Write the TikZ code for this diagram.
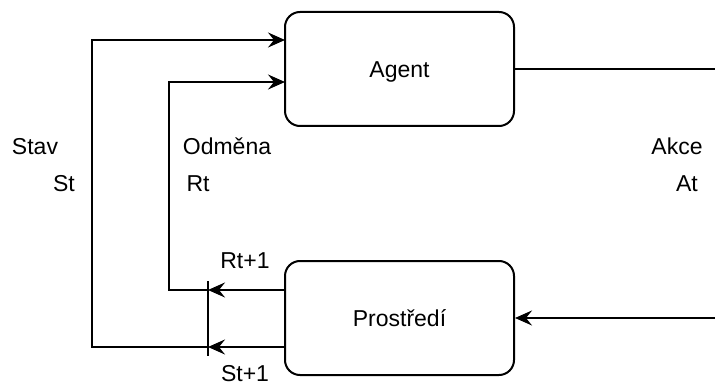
\documentclass[tikz,border=0pt]{standalone}
\usepackage{fontspec}
\setmainfont{Liberation Sans}
\usetikzlibrary{arrows.meta}
\begin{document}
\begin{tikzpicture}[x=1pt,y=-1pt,
  every node/.style={font=\fontsize{23}{27}\selectfont},
  box/.style={draw, line width=2pt, rounded corners=15pt, minimum width=229pt, minimum height=114pt, text height=16.5pt, text depth=0pt, inner sep=0pt},
  conn/.style={line width=2pt},
  arr/.style={conn, -{Stealth[length=17pt, width=15pt, inset=6pt]}},
  lbl/.style={anchor=base, inner sep=0pt}]
\useasboundingbox (0,0) rectangle (715,385);
\node[box] (agent) at (399.5,69) {Agent};
\node[box] (env) at (399.5,318) {Prostředí};
\coordinate (aR) at (715,69);
\coordinate (pR) at (715,318);
\coordinate (barT) at (208,281);
\coordinate (barB) at (208,356);
\coordinate (rTip) at (208,290);
\coordinate (sTip) at (208,347);
\coordinate (sCorner) at (92,347);
\coordinate (sTop) at (92,40);
\coordinate (rCorner) at (169,290);
\coordinate (rTop) at (169,82);
\coordinate (sIn) at (285,40);
\coordinate (rIn) at (285,82);
\coordinate (sOut) at (285,347);
\coordinate (rOut) at (285,290);
% action
\draw[conn] (agent.east) -- (aR);
\draw[arr] (pR) -- (env.east);
% bar
\draw[conn] (barT) -- (barB);
% env to bar
\draw[arr] (rOut) -- (rTip);
\draw[arr] (sOut) -- (sTip);
% feedback
\draw[arr] (rTip) -- (rCorner) -- (rTop) -- (rIn);
\draw[arr] (sTip) -- (sCorner) -- (sTop) -- (sIn);
% labels
\node[lbl] (stav) at (35,154) {Stav};
\node[lbl] (st) at (64,192) {St};
\node[lbl] (odm) at (227,154) {Odměna};
\node[lbl] (rt) at (198,192) {Rt};
\node[lbl] (akce) at (677,154) {Akce};
\node[lbl] (at) at (687,192) {At};
\node[lbl] (rt1) at (245,268) {Rt+1};
\node[lbl] (st1) at (245,381) {St+1};
\end{tikzpicture}
\end{document}
